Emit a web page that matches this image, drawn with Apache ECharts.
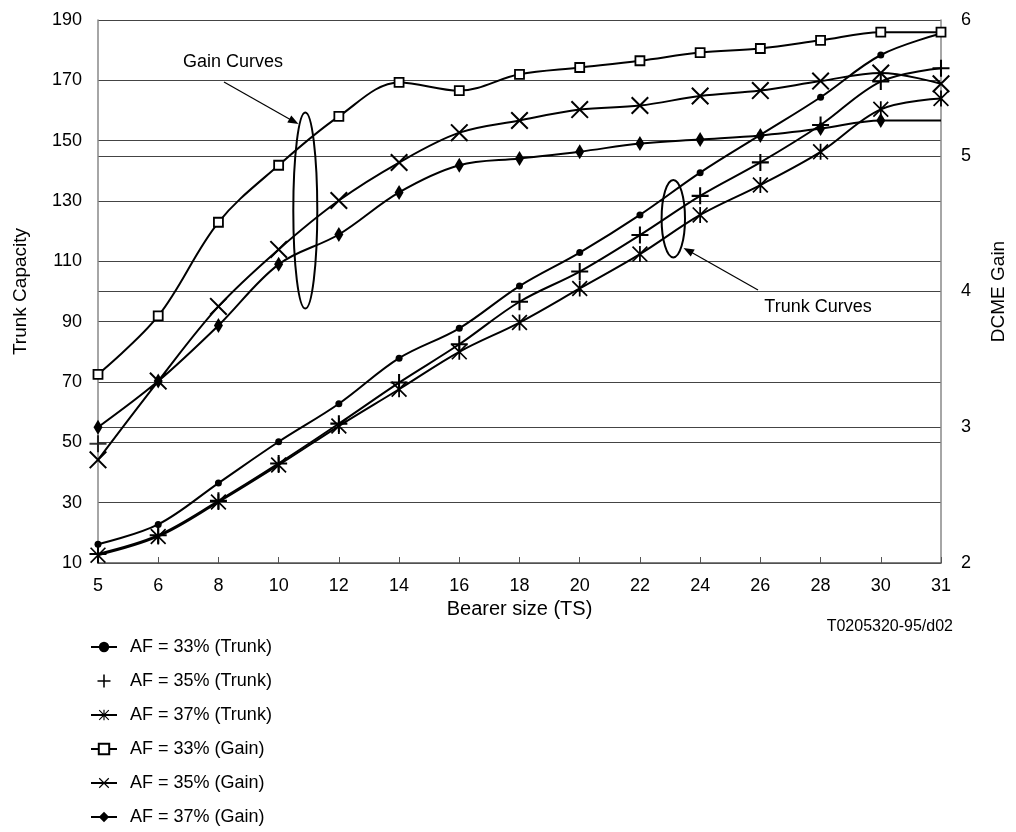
<!DOCTYPE html>
<html>
<head>
<meta charset="utf-8">
<script src="https://cdn.jsdelivr.net/npm/echarts@6/dist/echarts.min.js"></script>
<style>
  html, body { margin: 0; padding: 0; background: #fff; }
  #chart { width: 1016px; height: 832px; }
</style>
</head>
<body>
<div id="chart"></div>
<script>
// bearer size categories (TS)
var bearerSizes = ['5', '6', '8', '10', '12', '14', '16', '18', '20', '22', '24', '26', '28', '30', '31'];

// trunk capacity, left axis
var trunk33 = [16.2, 22.8, 36.5, 50.2, 62.8, 77.9, 87.8, 101.8, 112.9, 125.4, 139.4, 151.9, 164.4, 178.4, 185.5];
var trunk35 = [13.0, 19.2, 30.6, 43.0, 56.2, 69.8, 82.5, 96.6, 106.6, 118.7, 131.7, 142.8, 155.2, 169.6, 174.0];
var trunk37 = [12.6, 18.8, 30.2, 42.5, 55.4, 67.6, 80.0, 89.7, 101.0, 112.4, 125.4, 135.3, 146.3, 160.4, 164.0];

// DCME gain, right axis
var gain33 = [3.39, 3.82, 4.51, 4.93, 5.29, 5.54, 5.48, 5.60, 5.65, 5.70, 5.76, 5.79, 5.85, 5.91, 5.91];
var gain35 = [2.76, 3.34, 3.89, 4.31, 4.67, 4.95, 5.17, 5.26, 5.34, 5.37, 5.44, 5.48, 5.55, 5.61, 5.53];
var gain37 = [3.00, 3.34, 3.75, 4.20, 4.42, 4.73, 4.93, 4.98, 5.03, 5.09, 5.12, 5.15, 5.20, 5.26, 5.26];

// lone "+" marker sitting on the left axis
var loosePlus = [['5', 49.5]];

var seriesNames = ['AF = 33% (Trunk)', 'AF = 35% (Trunk)', 'AF = 37% (Trunk)',
                   'AF = 33% (Gain)', 'AF = 35% (Gain)', 'AF = 37% (Gain)'];

var FONT = 'Liberation Sans, Arial, sans-serif';

// marker shapes
var plusPath = 'path://M4.4,0h1.2v4.4h4.4v1.2h-4.4v4.4h-1.2v-4.4h-4.4v-1.2h4.4z';
var starPath = 'path://M4.45,0h1.1v10h-1.1z' +
               'M0,0.75L0.75,0L10,9.25L9.25,10z' +
               'M10,0.75L0.75,10L0,9.25L9.25,0z';
var crossPath = 'path://M0,0.8L0.8,0L10,9.2L9.2,10z' +
                'M10,0.8L0.8,10L0,9.2L9.2,0z';

function lineSeries(name, data, yIdx, symbol, size, itemStyle) {
    return {
        name: name,
        type: 'line',
        yAxisIndex: yIdx,
        data: data,
        smooth: 0.35,
        symbol: symbol,
        symbolSize: size,
        showAllSymbol: true,
        lineStyle: { color: '#000', width: 2 },
        itemStyle: itemStyle || { color: '#000' },
        emphasis: { disabled: true },
        animation: false
    };
}

var myChart = echarts.init(document.getElementById('chart'));

var option = {
    backgroundColor: '#fff',
    textStyle: { fontFamily: FONT },
    grid: { left: 98, right: 70, top: 20, bottom: 269 },
    legend: {
        orient: 'vertical',
        left: 85,
        top: 633,
        height: 260,
        itemGap: 16,
        itemWidth: 26,
        itemHeight: 13,
        selectedMode: false,
        textStyle: { fontSize: 18, color: '#000', fontFamily: FONT, padding: [0, 0, 0, 8] },
        data: [
            { name: seriesNames[0] },
            { name: seriesNames[1], icon: plusPath },
            { name: seriesNames[2] },
            { name: seriesNames[3] },
            { name: seriesNames[4] },
            { name: seriesNames[5] }
        ]
    },
    xAxis: {
        type: 'category',
        data: bearerSizes,
        boundaryGap: false,
        name: 'Bearer size (TS)',
        nameLocation: 'middle',
        nameGap: 36,
        nameTextStyle: { fontSize: 20, color: '#000', fontFamily: FONT },
        axisLine: { lineStyle: { color: '#555', width: 1.5 } },
        axisTick: { show: true, inside: true, length: 6, lineStyle: { color: '#555' } },
        axisLabel: { fontSize: 18, color: '#000', margin: 14, interval: 0 }
    },
    yAxis: [
        {
            type: 'value',
            min: 10, max: 190, interval: 20,
            name: 'Trunk Capacity',
            nameLocation: 'middle',
            nameGap: 68,
            nameTextStyle: { fontSize: 19, color: '#000', fontFamily: FONT },
            axisLine: { show: true, lineStyle: { color: '#888', width: 1.5 } },
            axisTick: { show: false },
            axisLabel: { fontSize: 18, color: '#000', margin: 16 },
            splitLine: { show: true, lineStyle: { color: '#444', width: 1.2 } }
        },
        {
            type: 'value',
            min: 2, max: 6, interval: 1,
            name: 'DCME Gain',
            nameLocation: 'middle',
            nameGap: 48,
            nameRotate: 90,
            nameTextStyle: { fontSize: 19, color: '#000', fontFamily: FONT },
            axisLine: { show: true, lineStyle: { color: '#888', width: 1.5 } },
            axisTick: { show: false },
            axisLabel: { fontSize: 18, color: '#000', margin: 20 },
            splitLine: { show: true, lineStyle: { color: '#444', width: 1.2 } }
        }
    ],
    series: [
        lineSeries(seriesNames[0], trunk33, 0, 'circle', 7),
        lineSeries(seriesNames[1], trunk35, 0, plusPath, 17),
        lineSeries(seriesNames[2], trunk37, 0, starPath, 16),
        lineSeries(seriesNames[3], gain33, 1, 'rect', 9,
            { color: '#fff', borderColor: '#000', borderWidth: 1.8 }),
        lineSeries(seriesNames[4], gain35, 1, crossPath, 18),
        lineSeries(seriesNames[5], gain37.map(function (v, i) {
            return i === gain37.length - 1 ? { value: v, symbol: 'none' } : v;
        }), 1, 'diamond', [9, 15]),
        {
            name: 'loose',
            type: 'scatter',
            yAxisIndex: 0,
            data: loosePlus,
            symbol: plusPath,
            symbolSize: 17,
            itemStyle: { color: '#000' },
            animation: false
        }
    ],
    graphic: [
        {
            type: 'text', z: 100,
            style: { text: 'Gain Curves', x: 233, y: 62, fill: '#000', font: '18px ' + FONT,
                     align: 'center', verticalAlign: 'middle', textAlign: 'center', textVerticalAlign: 'middle' }
        },
        { type: 'line', z: 100, shape: { x1: 224, y1: 82, x2: 292, y2: 120.5 }, style: { stroke: '#000', lineWidth: 1.2 } },
        { type: 'polygon', z: 100, shape: { points: [[298.5, 124], [287.3, 122.6], [291.3, 115.6]] }, style: { fill: '#000' } },
        { type: 'ellipse', z: 100, shape: { cx: 305.3, cy: 210.5, rx: 12, ry: 98 }, style: { fill: 'none', stroke: '#000', lineWidth: 2 } },
        { type: 'ellipse', z: 100, shape: { cx: 673.3, cy: 218.7, rx: 11.7, ry: 38.7 }, style: { fill: 'none', stroke: '#000', lineWidth: 2 } },
        { type: 'line', z: 100, shape: { x1: 758, y1: 290, x2: 690, y2: 251.5 }, style: { stroke: '#000', lineWidth: 1.2 } },
        { type: 'polygon', z: 100, shape: { points: [[683.5, 248], [694.7, 249.4], [690.7, 256.4]] }, style: { fill: '#000' } },
        {
            type: 'text', z: 100,
            style: { text: 'Trunk Curves', x: 818, y: 307, fill: '#000', font: '18px ' + FONT,
                     align: 'center', verticalAlign: 'middle', textAlign: 'center', textVerticalAlign: 'middle' }
        },
        {
            type: 'text', z: 100,
            style: { text: 'T0205320-95/d02', x: 953, y: 627, fill: '#000', font: '16px ' + FONT,
                     align: 'right', verticalAlign: 'middle', textAlign: 'right', textVerticalAlign: 'middle' }
        }
    ]
};

myChart.setOption(option);
</script>
</body>
</html>
